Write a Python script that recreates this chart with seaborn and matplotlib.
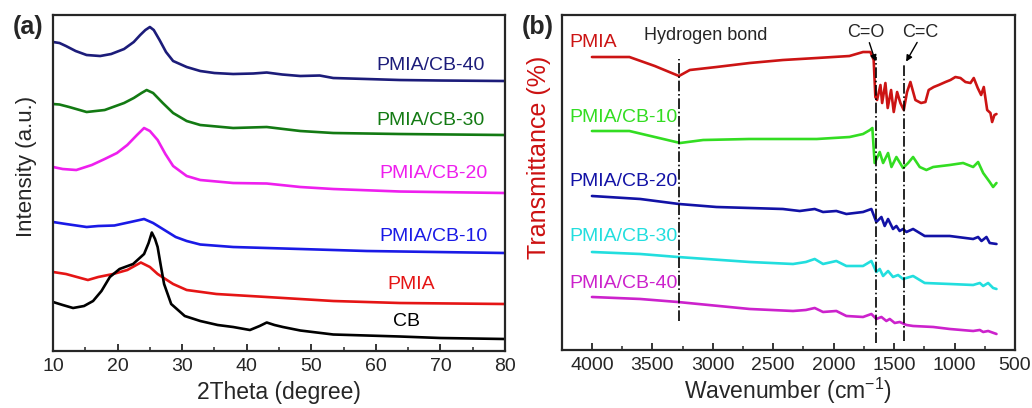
import numpy as np
import pandas as pd
import seaborn as sns
import matplotlib.pyplot as plt

# ---- (a) XRD: 2theta and offset intensity (a.u.) ----
cb40_x = [10, 11, 12, 13.5, 15.2, 17.3, 19, 21, 22.5, 23.5, 24.3, 25, 25.6, 26.5, 27.5, 28.6, 30.7, 32.8, 35, 37.9, 41, 43.1, 45.5, 48.3, 51.3, 53.4, 58.6, 63.7, 70, 80]
cb40_y = [309, 308, 305, 300, 296, 295, 297, 302, 309, 316, 321, 324, 321, 311, 299, 290, 284, 280, 278, 277, 277.5, 278.5, 276.5, 275, 275.5, 273, 272, 271, 270.5, 270]
cb30_x = [10, 11, 12.5, 15.2, 18, 21, 22.5, 23.7, 24.5, 25.5, 27, 28.6, 30.7, 32.8, 37.9, 43.1, 48.3, 53.4, 63.7, 80]
cb30_y = [247, 246.5, 244, 239, 241, 248, 253, 258, 261, 258, 248, 238, 230, 226, 223, 224, 220, 218, 217, 216]
cb20_x = [10, 11.5, 13.6, 16, 18, 19.9, 21.5, 23, 24.1, 25, 26.2, 27.4, 28.6, 30.7, 32.8, 37.9, 43.1, 48.3, 53.4, 63.7, 80]
cb20_y = [184, 182, 181, 186, 192, 198, 206, 216, 223, 220, 211, 197, 185, 175, 171, 168, 167.5, 164, 162, 159.5, 158]
cb10_x = [10, 12, 15.2, 17, 19.5, 22, 24.1, 25.5, 27.5, 29, 30.7, 32.8, 37.9, 48.3, 58.6, 80]
cb10_y = [129, 127, 124, 125, 125.5, 129, 132, 128, 120, 114, 110, 106.5, 104, 102, 100, 98]
pmia_x = [10, 12, 15.4, 17, 19.3, 21.5, 23.6, 25, 26.2, 27.4, 28.6, 30.7, 35.3, 43.1, 53.4, 63.7, 80]
pmia_y = [79, 77, 71, 74, 77, 81, 88.5, 84, 77, 72, 67, 61, 57, 54, 50, 48, 47]
cb_x = [10, 11.5, 13.1, 14.8, 16.2, 17.5, 18.8, 20.3, 22.4, 24.1, 24.8, 25.3, 25.8, 26.2, 26.7, 27.2, 28.3, 30.4, 32.8, 35.5, 37.9, 40.5, 42, 43.1, 44.3, 45.6, 48.3, 53.4, 63.7, 70, 80]
cb_y = [49, 46, 43, 45, 50, 60, 74, 82, 87, 97, 108, 118.5, 112, 104, 85, 67, 47, 35, 30, 26, 24, 21, 25, 28.5, 26, 24, 20.5, 16.5, 14.5, 13, 12]

# ---- (b) FTIR: wavenumber and offset transmittance ----
f_pmia_x = [4000, 3850, 3690, 3480, 3280, 3190, 2970, 2695, 2420, 2140, 1870, 1757, 1696, 1669, 1655, 1641, 1613, 1599, 1572, 1553, 1525, 1503, 1475, 1448, 1420, 1393, 1365, 1324, 1277, 1241, 1214, 1172, 1131, 1075, 1034, 993, 951, 910, 868, 841, 808, 780, 758, 730, 703, 689, 670, 653]
f_pmia_y = [293, 293, 293, 284, 274, 280, 283, 287, 290, 292, 294, 298, 298, 290, 253, 250, 265, 247, 267, 242, 260, 238, 258, 247, 240, 258, 268, 250, 247, 248, 260, 263, 265, 268, 270, 273, 272, 268, 267, 272, 262, 255, 263, 240, 237, 228, 235, 236]
f_cb10_x = [4000, 3850, 3690, 3480, 3270, 3080, 2700, 2140, 1868, 1757, 1700, 1680, 1661, 1619, 1591, 1550, 1522, 1481, 1426, 1384, 1343, 1288, 1233, 1177, 1040, 929, 846, 805, 763, 709, 681, 653]
f_cb10_y = [219, 219, 219, 213, 207, 210, 211, 211, 213, 216, 220, 222, 187, 198, 187, 197, 183, 193, 182, 187, 193, 183, 180, 183, 185, 187, 183, 188, 177, 168, 163, 167]
f_cb20_x = [4000, 3600, 3280, 2970, 2420, 2281, 2157, 2088, 1978, 1895, 1757, 1688, 1647, 1605, 1578, 1550, 1509, 1481, 1454, 1426, 1398, 1343, 1247, 1040, 846, 805, 777, 736, 709, 653]
f_cb20_y = [154, 151, 146, 143, 141, 139, 141, 138, 139, 136, 138, 141, 128, 133, 124, 131, 121, 124, 119, 121, 118, 121, 114, 114, 111, 113, 109, 113, 107, 106]
f_cb30_x = [4000, 3600, 3290, 2695, 2336, 2230, 2157, 2088, 1978, 1895, 1757, 1688, 1647, 1619, 1591, 1550, 1509, 1467, 1426, 1343, 1247, 1040, 846, 791, 763, 722, 681, 653]
f_cb30_y = [98, 96, 93, 88, 86, 88, 91, 86, 89, 84, 84, 89, 78, 81, 74, 79, 73, 75, 71, 74, 67, 66, 65, 67, 64, 67, 62, 61]
f_cb40_x = [4000, 3600, 3290, 2695, 2336, 2230, 2157, 2088, 1978, 1895, 1757, 1688, 1647, 1605, 1564, 1536, 1495, 1454, 1398, 1343, 1177, 1040, 846, 791, 763, 722, 653]
f_cb40_y = [53, 51, 48, 41, 39, 40, 42, 38, 39, 34, 33, 36, 31, 33, 29, 31, 27, 28, 25, 24, 23, 21, 19, 20, 18, 19, 16]

xrd_names = ["PMIA/CB-40", "PMIA/CB-30", "PMIA/CB-20", "PMIA/CB-10", "PMIA", "CB"]
xrd_colors = ["#1c1c7a", "#137a13", "#ee1fee", "#1a1ae6", "#e51515", "#000000"]
xrd_x = [cb40_x, cb30_x, cb20_x, cb10_x, pmia_x, cb_x]
xrd_y = [cb40_y, cb30_y, cb20_y, cb10_y, pmia_y, cb_y]
xrd_label_x = [68.5, 68.5, 69, 69, 65.5, 64.8]
xrd_label_y = [286, 231, 178, 115, 67, 30]

ftir_names = ["PMIA", "PMIA/CB-10", "PMIA/CB-20", "PMIA/CB-30", "PMIA/CB-40"]
ftir_colors = ["#cc1414", "#33dd22", "#1212a6", "#22dede", "#cc22cc"]
ftir_x = [f_pmia_x, f_cb10_x, f_cb20_x, f_cb30_x, f_cb40_x]
ftir_y = [f_pmia_y, f_cb10_y, f_cb20_y, f_cb30_y, f_cb40_y]
ftir_label_y = [308, 233, 168, 113, 66]

sns.set_style("ticks")
plt.rcParams['font.family'] = ['Liberation Sans', 'DejaVu Sans']
plt.rcParams['mathtext.fontset'] = 'custom'
plt.rcParams['mathtext.rm'] = 'Liberation Sans'
plt.rcParams['mathtext.it'] = 'Liberation Sans:italic'

fig = plt.figure(figsize=(10.32, 4.08), dpi=100)
ax1 = fig.add_axes([0.0514, 0.1397, 0.4379, 0.8235])
ax2 = fig.add_axes([0.5443, 0.1422, 0.4392, 0.8210])

for name, c, xs, ys in zip(xrd_names, xrd_colors, xrd_x, xrd_y):
    df = pd.DataFrame({"x": xs, "y": ys})
    sns.lineplot(data=df, x="x", y="y", ax=ax1, color=c, lw=1.9, sort=False)
for name, c, lx, ly in zip(xrd_names, xrd_colors, xrd_label_x, xrd_label_y):
    ax1.text(lx, ly, name, color=c, fontsize=14, ha="center", va="center")

ax1.set_xlim(10, 80)
ax1.set_ylim(0, 336)
ax1.set_xticks(range(10, 81, 10))
ax1.set_xticks(range(15, 80, 10), minor=True)
ax1.set_yticks([])
ax1.set_xlabel("2Theta (degree)", fontsize=16.5, labelpad=4)
ax1.set_ylabel("Intensity (a.u.)", fontsize=16)
ax1.yaxis.set_label_coords(-0.036, 0.55)

for name, c, xs, ys in zip(ftir_names, ftir_colors, ftir_x, ftir_y):
    df = pd.DataFrame({"x": xs, "y": ys})
    sns.lineplot(data=df, x="x", y="y", ax=ax2, color=c, lw=1.9, sort=False)
for name, c, ly in zip(ftir_names, ftir_colors, ftir_label_y):
    ax2.text(4190, ly, name, color=c, fontsize=14, ha="left", va="center")

ax2.set_xlim(4250, 500)
ax2.set_ylim(0, 335)
ax2.set_xticks(range(4000, 499, -500))
ax2.set_xticks(range(3750, 600, -500), minor=True)
ax2.set_yticks([])
ax2.set_xlabel("Wavenumber (cm$^{-1}$)", fontsize=16.5, labelpad=1)
ax2.set_ylabel("Transmittance (%)", fontsize=18, color="#cc1111")
ax2.yaxis.set_label_coords(-0.024, 0.576)

# marker lines
ax2.plot([3280, 3280], [29, 291], color="black", lw=1.2, ls="-.")
ax2.plot([1650, 1650], [7, 293], color="black", lw=1.2, ls="-.")
ax2.plot([1420, 1420], [9, 287], color="black", lw=1.2, ls="-.")
ax2.text(3060, 315, "Hydrogen bond", fontsize=13, ha="center", va="center")
ax2.text(1737, 318, "C=O", fontsize=13, ha="center", va="center")
ax2.annotate("", xy=(1647, 286), xytext=(1712, 310),
             arrowprops=dict(arrowstyle="-|>", color="black", lw=1, mutation_scale=9))
ax2.text(1283, 318, "C=C", fontsize=13, ha="center", va="center")
ax2.annotate("", xy=(1412, 286), xytext=(1298, 310),
             arrowprops=dict(arrowstyle="-|>", color="black", lw=1, mutation_scale=9))

for ax in (ax1, ax2):
    for s in ax.spines.values():
        s.set_linewidth(1.6)
        s.set_visible(True)
    ax.tick_params(axis="x", which="major", direction="in", length=5, width=1.3, labelsize=14, pad=5, top=False)
    ax.tick_params(axis="x", which="minor", direction="in", length=3, width=1.1, top=False)
    ax.tick_params(axis="y", left=False, right=False)

fig.text(0.027, 0.934, "(a)", fontsize=18, fontweight="bold", ha="center", va="center")
fig.text(0.521, 0.934, "(b)", fontsize=18, fontweight="bold", ha="center", va="center")

fig.savefig("out.png", dpi=100)
